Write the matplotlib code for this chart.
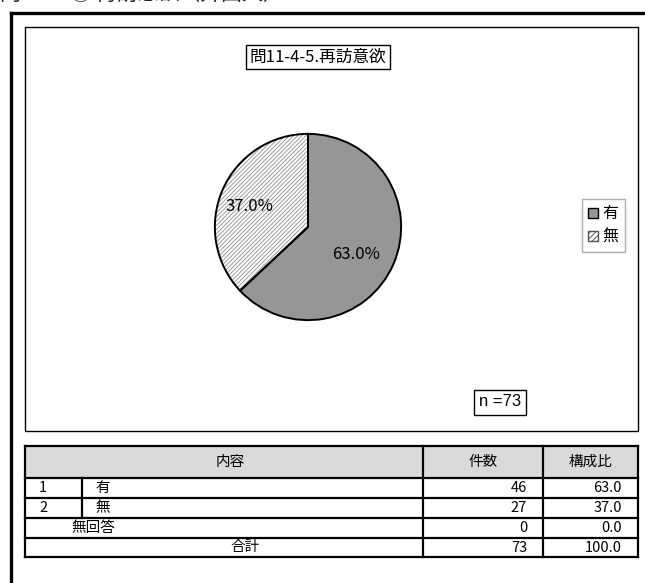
import matplotlib.pyplot as plt
from matplotlib.patches import Rectangle, Patch

plt.rcParams['font.family'] = ['Noto Sans CJK JP', 'DejaVu Sans']
plt.rcParams['hatch.color'] = '#9a9a9a'
plt.rcParams['hatch.linewidth'] = 0.7

# data
title = '問11-4-5.再訪意欲'
labels = ['有', '無']
counts = [46, 27]
no_answer = 0
total = 73
shares = [63.0, 37.0]
no_answer_share = 0.0
total_share = 100.0

W, H = 645, 583
fig = plt.figure(figsize=(W / 100, H / 100), dpi=100)

# full-figure axes in pixel coordinates for frames and table
bg = fig.add_axes([0, 0, 1, 1])
bg.set_xlim(0, W)
bg.set_ylim(H, 0)
bg.axis('off')

# heading of the page, cut off at the top edge
bg.text(0, -6, '問11-4-⑤ 再訪意欲（外国人）', fontsize=15, va='center', ha='left', color='#222222')

# outer frame
bg.plot([11, 644], [13, 13], color='black', lw=2.4)
bg.plot([11, 11], [13, 583], color='black', lw=2.4)

# chart frame
bg.add_patch(Rectangle((25, 27), 613, 404, fill=False, ec='black', lw=1.0))

# title box
bg.text(318, 57, title, fontsize=12, ha='center', va='center',
        bbox=dict(boxstyle='square,pad=0.2', fc='white', ec='black', lw=1.0))

# n box
bg.text(500, 402, 'n =%d' % total, fontsize=12, ha='center', va='center', family='Liberation Sans',
        bbox=dict(boxstyle='square,pad=0.3', fc='white', ec='black', lw=1.0))

# pie
cx, cy, r = 308, 227, 95
pax = fig.add_axes([(cx - r) / W, (H - cy - r) / H, 2 * r / W, 2 * r / H])
wedges, _ = pax.pie(counts, startangle=90, counterclock=False, radius=1,
                    colors=['#969696', 'white'], wedgeprops=dict(lw=0))
wedges[1].set_hatch('////////')
pax.pie(counts, startangle=90, counterclock=False, radius=1,
        colors=['none', 'none'], wedgeprops=dict(lw=1.4, ec='black'))
pax.text(0.52, -0.3, '%.1f%%' % shares[0], fontsize=12, ha='center', va='center')
pax.text(-0.63, 0.22, '%.1f%%' % shares[1], fontsize=12, ha='center', va='center')
pax.set_xlim(-1.02, 1.02)
pax.set_ylim(-1.02, 1.02)
pax.axis('off')

# legend
handles = [Patch(fc='#969696', ec='black', lw=1.0),
           Patch(fc='white', ec='#555555', hatch='//////', lw=1.0)]
fig.legend(handles, labels, loc='upper left', bbox_to_anchor=(582 / W, 1 - 199 / H),
           fontsize=11.5, frameon=True, fancybox=False, edgecolor='#999999',
           handlelength=0.6, handleheight=0.6, handletextpad=0.3, labelspacing=0.4,
           borderpad=0.4, borderaxespad=0)

# table
cols = [25, 82, 423, 543, 638]
rows = [446, 478, 497.5, 518, 538, 557]
bg.add_patch(Rectangle((cols[0], rows[0]), cols[-1] - cols[0], rows[1] - rows[0], fc='#d9d9d9', ec='none'))
tlw = 1.6
for y in rows:
    bg.plot([cols[0], cols[-1]], [y, y], color='black', lw=tlw)
for x in [cols[0], cols[2], cols[3], cols[4]]:
    bg.plot([x, x], [rows[0], rows[-1]], color='black', lw=tlw)
bg.plot([cols[1], cols[1]], [rows[1], rows[3]], color='black', lw=tlw)

fs = 10.5
hy = (rows[0] + rows[1]) / 2
bg.text(230, hy, '内容', fontsize=fs, ha='center', va='center')
bg.text(483, hy, '件数', fontsize=fs, ha='center', va='center')
bg.text(590, hy, '構成比', fontsize=fs, ha='center', va='center')

for i, lab in enumerate(labels):
    y = (rows[i + 1] + rows[i + 2]) / 2
    bg.text(39, y, str(i + 1), fontsize=fs, ha='left', va='center')
    bg.text(95, y, lab, fontsize=fs, ha='left', va='center')
    bg.text(527, y, str(counts[i]), fontsize=fs, ha='right', va='center')
    bg.text(622, y, '%.1f' % shares[i], fontsize=fs, ha='right', va='center')

y = (rows[3] + rows[4]) / 2
bg.text(93, y, '無回答', fontsize=fs, ha='center', va='center')
bg.text(527, y, str(no_answer), fontsize=fs, ha='right', va='center')
bg.text(622, y, '%.1f' % no_answer_share, fontsize=fs, ha='right', va='center')

y = (rows[4] + rows[5]) / 2
bg.text(245, y, '合計', fontsize=fs, ha='center', va='center')
bg.text(527, y, str(total), fontsize=fs, ha='right', va='center')
bg.text(622, y, '%.1f' % total_share, fontsize=fs, ha='right', va='center')

fig.savefig('out.png', dpi=100)
